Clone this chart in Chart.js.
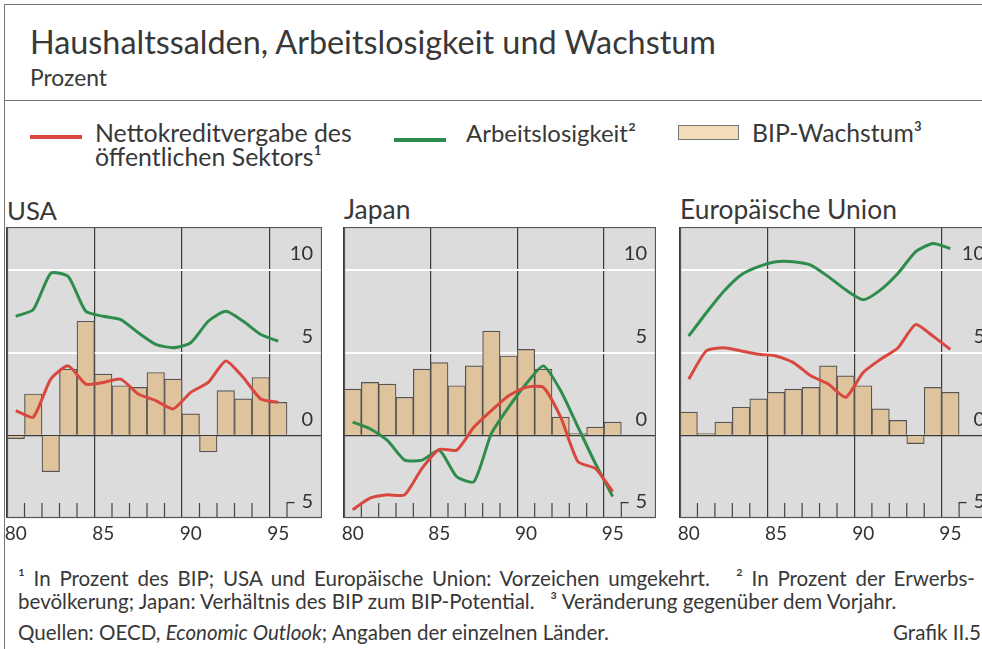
<!DOCTYPE html>
<html>
<head>
<meta charset="utf-8">
<script src="https://cdn.jsdelivr.net/npm/chart.js@4.4.0/dist/chart.umd.min.js"></script>
<style>
  body { margin: 0; width: 982px; height: 649px; overflow: hidden; background: #fff; position: relative; font-family: Lato, "Open Sans", sans-serif; color: #383838; }
  .t { position: absolute; white-space: nowrap; line-height: 1.2; transform: translateY(-50%); }
  .rule { position: absolute; background: #777; }
  .swatch { position: absolute; }
  canvas { position: absolute; }
</style>
</head>
<body>
<div class="rule" style="left:4px;top:4px;width:978px;height:1px"></div>
<div class="rule" style="left:4px;top:4px;width:1px;height:645px"></div>
<div class="rule" style="left:4px;top:100px;width:978px;height:1px"></div>

<div class="t" id="title" style="left:30px;top:42px;font-size:30px">Haushaltssalden, Arbeitslosigkeit und Wachstum</div>
<div class="t" id="unit" style="left:30px;top:78px;font-size:18px">Prozent</div>

<div class="swatch" style="left:30px;top:135px;width:52px;height:4px;background:#d9483f"></div>
<div class="t" id="lg1a" style="left:95px;top:133px;font-size:19px">Nettokreditvergabe des</div>
<div class="t" id="lg1b" style="left:95px;top:157px;font-size:19px">öffentlichen Sektors¹</div>
<div class="swatch" style="left:394px;top:138px;width:52px;height:4px;background:#2e8c4c"></div>
<div class="t" id="lg2" style="left:466px;top:133px;font-size:19px">Arbeitslosigkeit²</div>
<div class="swatch" style="left:678px;top:125px;width:59px;height:13px;background:#f3dcb8;border:1px solid #777"></div>
<div class="t" id="lg3" style="left:752px;top:133px;font-size:19px">BIP-Wachstum³</div>

<div class="t" id="p1" style="left:7px;top:210px;font-size:24px">USA</div>
<div class="t" id="p2" style="left:344px;top:210px;font-size:24px">Japan</div>
<div class="t" id="p3" style="left:680px;top:210px;font-size:24px">Europäische Union</div>

<canvas id="cUSA" width="322" height="318" style="left:0px;top:227px"></canvas>
<canvas id="cJP" width="319" height="318" style="left:337px;top:227px"></canvas>
<canvas id="cEU" width="321" height="318" style="left:673px;top:227px"></canvas>

<div class="t" id="fn1" style="left:18px;top:578px;width:957px;font-size:16.5px;white-space:normal;text-align:justify;text-align-last:justify">¹ In Prozent des BIP; USA und Europäische Union: Vorzeichen umgekehrt.&nbsp;&nbsp; ² In Prozent der Erwerbs-</div>
<div class="t" id="fn2" style="left:18px;top:601px;font-size:16.5px">bevölkerung; Japan: Verhältnis des BIP zum BIP-Potential.&nbsp;&nbsp; ³ Veränderung gegenüber dem Vorjahr.</div>
<div class="t" id="fn3" style="left:18px;top:632px;font-size:16.5px">Quellen: OECD, <i>Economic Outlook</i>; Angaben der einzelnen Länder.</div>
<div class="t" id="fn4" style="left:893px;top:632px;font-size:16.5px">Grafik II.5</div>

<script>
// Jahre (Kategorien), nur 80/85/90/95 beschriftet
const years = ['80','81','82','83','84','85','86','87','88','89','90','91','92','93','94','95','96','97'];
const xTickLabels = ['80','85','90','95'];
const yTicks = [-5, 0, 5, 10];

// USA
const usaBIP = [-0.2, 2.5, -2.2, 4.0, 6.9, 3.7, 3.0, 2.9, 3.8, 3.4, 1.3, -1.0, 2.7, 2.2, 3.5, 2.0];
const usaKredit = [1.5, 1.1, 3.4, 4.2, 3.1, 3.2, 3.4, 2.5, 2.1, 1.6, 2.6, 3.2, 4.5, 3.5, 2.2, 2.0];
const usaArbeit = [7.2, 7.6, 9.8, 9.6, 7.5, 7.2, 7.0, 6.2, 5.5, 5.3, 5.6, 6.9, 7.5, 6.9, 6.1, 5.7];

// Japan
const jpBIP = [2.8, 3.2, 3.1, 2.3, 4.0, 4.4, 3.0, 4.2, 6.3, 4.8, 5.2, 4.0, 1.1, 0.1, 0.5, 0.8];
const jpKredit = [-4.5, -3.8, -3.6, -3.6, -2.0, -0.85, -0.9, 0.5, 1.5, 2.4, 2.9, 2.9, 1.1, -1.6, -2.0, -3.4];
const jpArbeit = [0.8, 0.4, -0.3, -1.5, -1.5, -0.9, -2.5, -2.8, 0.1, 1.7, 3.1, 4.2, 2.7, 0.5, -1.7, -3.7];

// Europäische Union
const euBIP = [1.4, 0.1, 0.8, 1.7, 2.2, 2.6, 2.8, 2.9, 4.2, 3.6, 3.0, 1.6, 0.9, -0.5, 2.9, 2.6];
const euKredit = [3.4, 5.1, 5.3, 5.1, 4.9, 4.8, 4.4, 3.6, 3.1, 2.3, 3.8, 4.6, 5.3, 6.7, 6.0, 5.2];
const euArbeit = [6.0, 7.4, 8.7, 9.7, 10.2, 10.5, 10.5, 10.3, 9.6, 8.8, 8.2, 8.8, 9.8, 11.1, 11.6, 11.3];

// Textbreiten an die Vorlage anpassen
function fit(id, w) {
  const el = document.getElementById(id);
  const r = el.getBoundingClientRect().width;
  const fs = parseFloat(getComputedStyle(el).fontSize);
  el.style.fontSize = (fs * w / r) + 'px';
}
fit('title', 686); fit('unit', 77);
fit('lg1a', 257); fit('lg2', 170); fit('lg3', 170);
document.getElementById('lg1b').style.fontSize = document.getElementById('lg1a').style.fontSize;
fit('p1', 50); fit('p3', 217);
document.getElementById('p2').style.fontSize = document.getElementById('p3').style.fontSize;
fit('fn2', 879);
['fn1','fn3','fn4'].forEach(id => document.getElementById(id).style.fontSize = document.getElementById('fn2').style.fontSize);

const tickFont = { family: 'Lato', size: 19 };
const majorIdx = xTickLabels.map(l => years.indexOf(l));

// Hintergrund, Rahmen, Jahresstriche und y-Beschriftung
const panelPlugin = {
  id: 'panel',
  beforeDraw(chart) {
    const { ctx, chartArea: a } = chart;
    ctx.save();
    ctx.fillStyle = '#dcdcdc';
    ctx.fillRect(a.left, a.top, a.width, a.height);
    ctx.restore();
  },
  beforeDatasetsDraw(chart) {
    const { ctx, chartArea: a, scales: { x } } = chart;
    ctx.save();
    ctx.strokeStyle = '#444';
    ctx.lineWidth = 1.2;
    for (let i = 1; i <= 16; i++) {
      if (majorIdx.includes(i)) continue;
      const px = (x.getPixelForValue(i - 1) + x.getPixelForValue(i)) / 2;
      ctx.beginPath();
      ctx.moveTo(px, a.bottom);
      ctx.lineTo(px, a.bottom - 15);
      ctx.stroke();
    }
    ctx.restore();
  },
  afterDraw(chart) {
    const { ctx, chartArea: a, scales: { y } } = chart;
    ctx.save();
    ctx.strokeStyle = '#555';
    ctx.lineWidth = 1.2;
    ctx.strokeRect(a.left + 0.5, a.top + 0.5, a.width - 1, a.height - 1);
    ctx.font = '20px Lato';
    ctx.fillStyle = '#333';
    ctx.textAlign = 'right';
    ctx.textBaseline = 'middle';
    y.ticks.forEach(t => {
      const label = t.value < 0 ? '\u2013 ' + (-t.value) : String(t.value);
      ctx.fillText(label, a.right - 9, y.getPixelForValue(t.value) - 16);
    });
    ctx.restore();
  }
};

function makePanel(id, bip, kredit, arbeit) {
  new Chart(document.getElementById(id), {
    type: 'bar',
    data: {
      labels: years,
      datasets: [
        { type: 'line', data: kredit, borderColor: '#d9483f', borderWidth: 3, pointRadius: 0, tension: 0.2, order: 0 },
        { type: 'line', data: arbeit, borderColor: '#2e8c4c', borderWidth: 3, pointRadius: 0, tension: 0.2, order: 1 },
        { type: 'bar', data: bip, backgroundColor: '#dfc39d', borderColor: '#555', borderWidth: 1.2,
          categoryPercentage: 1, barPercentage: 1, order: 2 }
      ]
    },
    options: {
      responsive: false,
      animation: false,
      events: [],
      layout: { padding: { left: 7, right: 0, top: 0, bottom: 0 } },
      plugins: { legend: { display: false }, tooltip: { enabled: false } },
      scales: {
        x: {
          afterFit: s => { s.height = 27; s.paddingLeft = 0; s.paddingRight = 0; },
          border: { display: false },
          grid: {
            offset: true, drawTicks: false, lineWidth: 1.2,
            color: c => majorIdx.includes(c.index) ? '#3a3a3a' : 'rgba(0,0,0,0)'
          },
          ticks: {
            autoSkip: false, maxRotation: 0, padding: 4, font: tickFont, color: '#333',
            callback: (v, i) => xTickLabels.includes(years[i]) ? years[i] : ''
          }
        },
        y: {
          position: 'right',
          min: -5, max: 12.6,
          afterBuildTicks: s => { s.ticks = yTicks.map(v => ({ value: v })); },
          afterFit: s => { s.width = 0; s.paddingTop = 0; s.paddingBottom = 0; },
          border: { display: false },
          grid: {
            drawTicks: false,
            color: c => c.tick.value === 0 ? '#3a3a3a' : (c.tick.value > 0 ? '#ffffff' : 'rgba(0,0,0,0)'),
            lineWidth: c => c.tick.value === 0 ? 1.2 : 2
          },
          ticks: { display: false }
        }
      }
    },
    plugins: [panelPlugin]
  });
}

makePanel('cUSA', usaBIP, usaKredit, usaArbeit);
makePanel('cJP', jpBIP, jpKredit, jpArbeit);
makePanel('cEU', euBIP, euKredit, euArbeit);
</script>
</body>
</html>
